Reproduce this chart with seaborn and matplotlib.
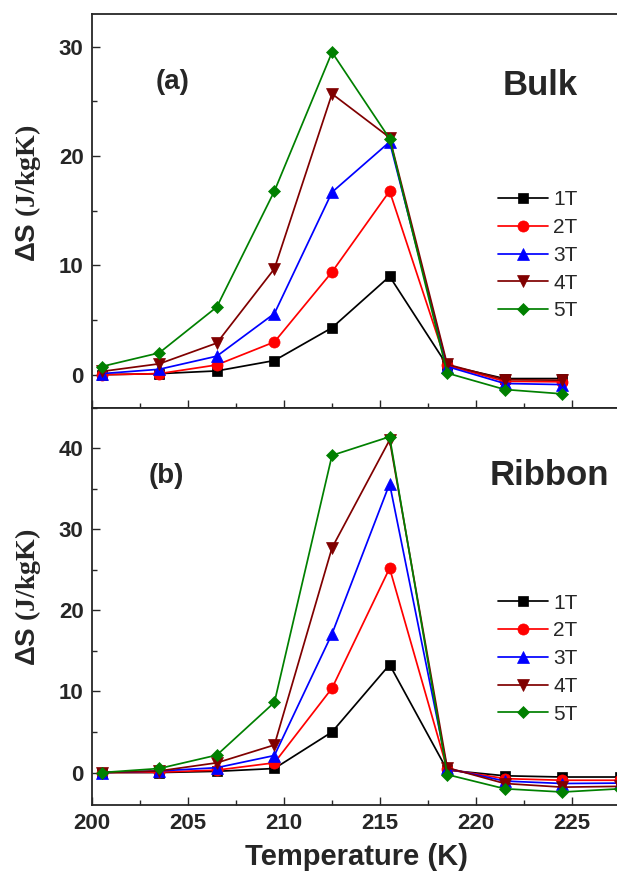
import seaborn as sns
import matplotlib.pyplot as plt
from matplotlib.ticker import MultipleLocator

# temperatures (K)
temps_bulk = [200.5, 203.5, 206.5, 209.5, 212.5, 215.5, 218.5, 221.5, 224.5]
temps_ribbon = [200.5, 203.5, 206.5, 209.5, 212.5, 215.5, 218.5, 221.5, 224.5, 227.5]

fields = ['1T', '2T', '3T', '4T', '5T']

# -dS (J/kgK), bulk sample
bulk_1T = [0.0, 0.1, 0.35, 1.3, 4.3, 9.0, 0.85, -0.35, -0.35]
bulk_2T = [0.0, 0.1, 0.9, 3.0, 9.4, 16.8, 0.85, -0.6, -0.65]
bulk_3T = [0.1, 0.5, 1.7, 5.6, 16.7, 21.3, 0.75, -0.8, -0.9]
bulk_4T = [0.3, 1.0, 2.9, 9.7, 25.7, 21.7, 0.95, -0.45, -0.5]
bulk_5T = [0.75, 2.0, 6.2, 16.8, 29.5, 21.6, 0.15, -1.35, -1.75]

# ribbon sample
ribbon_1T = [0.0, 0.0, 0.15, 0.5, 5.0, 13.3, 0.3, -0.4, -0.55, -0.55]
ribbon_2T = [0.0, 0.05, 0.3, 1.2, 10.4, 25.2, 0.4, -0.75, -0.95, -0.95]
ribbon_3T = [0.0, 0.2, 0.6, 2.1, 17.1, 35.6, 0.5, -1.05, -1.35, -1.3]
ribbon_4T = [0.0, 0.2, 1.2, 3.4, 27.7, 41.0, 0.6, -1.35, -1.8, -1.7]
ribbon_5T = [0.0, 0.5, 2.15, 8.65, 39.1, 41.4, -0.25, -2.0, -2.4, -2.0]

colors = ['#000000', '#ff0000', '#0000ff', '#800000', '#008000']
markers = ['s', 'o', '^', 'v', 'D']
msizes = [7, 8, 8.5, 8.5, 6.5]

sns.set_style('ticks')
plt.rcParams['font.family'] = ['Liberation Sans', 'DejaVu Sans']
plt.rcParams['mathtext.fontset'] = 'custom'
plt.rcParams['mathtext.sf'] = 'Liberation Sans:bold'
plt.rcParams['mathtext.rm'] = 'Liberation Serif:bold'

fig = plt.figure(figsize=(6.17, 8.77), dpi=100)
ax1 = fig.add_axes([0.1491, 0.5353, 0.8558, 0.4487])
ax2 = fig.add_axes([0.1491, 0.0821, 0.8558, 0.4532])

bulk = [bulk_1T, bulk_2T, bulk_3T, bulk_4T, bulk_5T]
ribbon = [ribbon_1T, ribbon_2T, ribbon_3T, ribbon_4T, ribbon_5T]

for i in range(5):
    sns.lineplot(x=temps_bulk, y=bulk[i], ax=ax1, color=colors[i], marker=markers[i],
                 markersize=msizes[i], markeredgecolor=colors[i], markeredgewidth=0.5,
                 linewidth=1.25, label=fields[i])
    sns.lineplot(x=temps_ribbon, y=ribbon[i], ax=ax2, color=colors[i], marker=markers[i],
                 markersize=msizes[i], markeredgecolor=colors[i], markeredgewidth=0.5,
                 linewidth=1.25, label=fields[i])

ax1.set_ylim(-3, 33)
ax2.set_ylim(-4, 45)

for ax in [ax1, ax2]:
    ax.set_xlim(200, 227.5)
    ax.xaxis.set_major_locator(MultipleLocator(5))
    ax.xaxis.set_minor_locator(MultipleLocator(2.5))
    ax.yaxis.set_major_locator(MultipleLocator(10))
    ax.yaxis.set_minor_locator(MultipleLocator(5))
    ax.tick_params(which='both', direction='in', width=1.0, top=False, right=False)
    ax.tick_params(which='major', length=5.5)
    ax.tick_params(which='minor', length=3.5)
    ax.tick_params(axis='y', labelsize=16, pad=6)
    ax.tick_params(axis='x', labelsize=16, pad=6)
    for lab in ax.get_xticklabels() + ax.get_yticklabels():
        lab.set_fontweight('bold')
    for sp in ax.spines.values():
        sp.set_linewidth(1.3)
        sp.set_visible(True)
    ax.set_ylabel(r'$\mathsf{\Delta S}$ (J/kgK)', fontsize=20, fontweight='bold',
                  family='Liberation Serif')
    ax.legend(loc='upper left', frameon=False, fontsize=15, handlelength=2.4,
              handletextpad=0.25, labelspacing=0.42, borderpad=0, borderaxespad=0)

ax1.tick_params(axis='x', labelbottom=False)
ax1.set_xlabel('')
ax1.legend_.set_bbox_to_anchor((0.769, 0.552), transform=ax1.transAxes)
ax2.legend_.set_bbox_to_anchor((0.769, 0.532), transform=ax2.transAxes)
ax1.yaxis.set_label_coords(-0.0928, 0.545)
ax2.yaxis.set_label_coords(-0.0928, 0.523)

ax2.set_xlabel('Temperature (K)', fontsize=21, fontweight='bold', labelpad=6)

ax1.text(204.2, 26.15, '(a)', ha='center', va='baseline', fontsize=20, fontweight='bold')
ax1.text(223.35, 25.6, 'Bulk', ha='center', va='baseline', fontsize=25, fontweight='bold')
ax2.text(203.85, 35.7, '(b)', ha='center', va='baseline', fontsize=20, fontweight='bold')
ax2.text(223.8, 35.4, 'Ribbon', ha='center', va='baseline', fontsize=25, fontweight='bold')

fig.savefig('out.png', dpi=100)
